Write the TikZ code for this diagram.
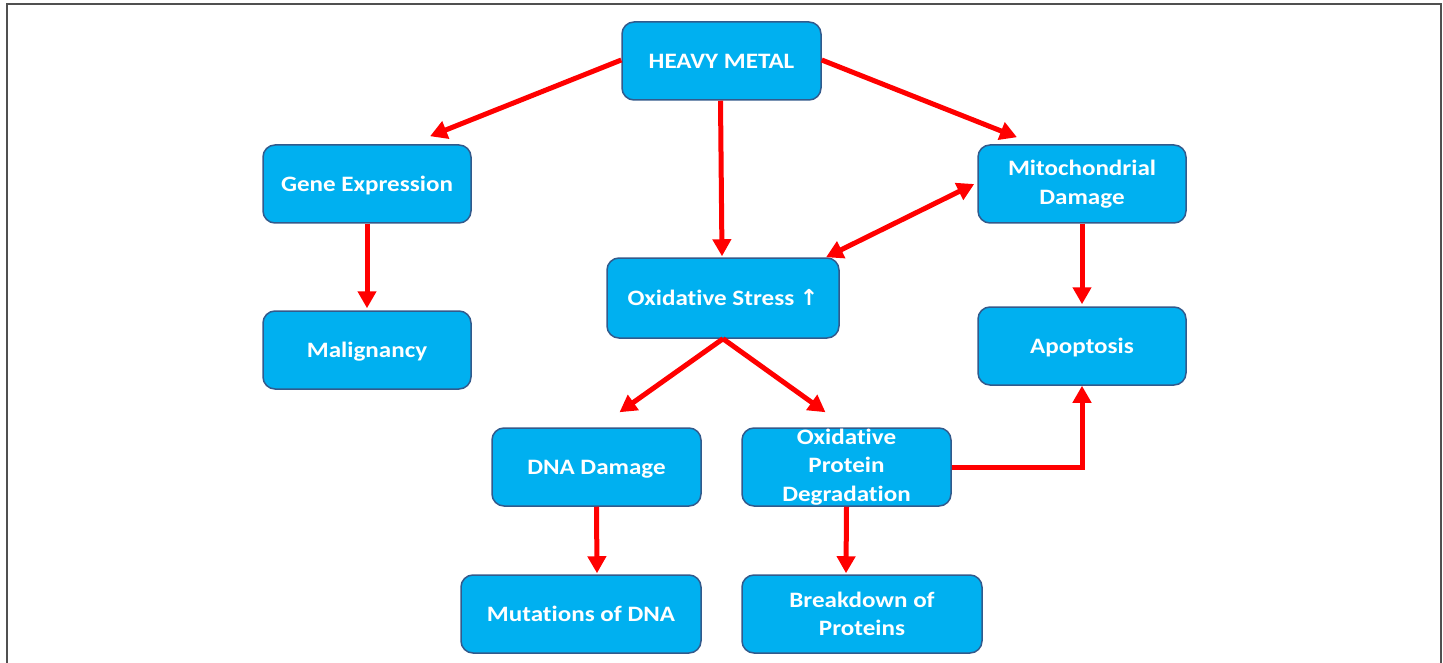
\documentclass[tikz,border=0pt]{standalone}
\usepackage{fontspec}
\setmainfont{Carlito}[FakeStretch=1.14,RawFeature=-liga]
\newfontfamily\symfont{DejaVu Sans}
\usetikzlibrary{arrows.meta}
\definecolor{boxfill}{RGB}{0,176,240}
\definecolor{boxline}{RGB}{50,90,140}
\definecolor{arrred}{RGB}{255,0,0}
\definecolor{framecol}{RGB}{80,80,80}
\tikzset{
  box/.style={draw=boxline, line width=1.5pt, fill=boxfill, rounded corners=12pt,
    text=white, font=\fontsize{22}{28.5}\selectfont\bfseries, align=center,
    inner sep=0pt, minimum height=78pt},
  oneline/.style={text height=16pt, text depth=1.6pt},
  conn/.style={draw=arrred, line width=5pt, -{Triangle[length=17pt,width=18pt]}},
  bconn/.style={draw=arrred, line width=5pt, {Triangle[length=17pt,width=18pt]}-{Triangle[length=17pt,width=18pt]}}
}
\begin{document}
\begin{tikzpicture}[x=1pt,y=-1pt]
\useasboundingbox (0,0) rectangle (1443,663);
\draw[framecol, line width=2.5pt] (7,663) -- (7,4) -- (1441,4) -- (1441,663);

\node[box, oneline, minimum width=199pt] (hm) at (721.5,61) {HEAVY METAL};
\node[box, oneline, minimum width=208pt] (ge) at (367,184) {Gene Expression};
\node[box, minimum width=208pt] (mito) at (1082,184) {Mitochondrial\\Damage};
\node[box, oneline, minimum width=232pt, minimum height=80pt] (os) at (723,298) {Oxidative Stress {\symfont\bfseries\fontsize{22}{28}\selectfont ↑}};
\node[box, oneline, minimum width=208pt] (mal) at (367,350) {Malignancy};
\node[box, oneline, minimum width=208pt] (apop) at (1082,346) {Apoptosis};
\node[box, oneline, minimum width=209pt] (dna) at (596.5,467) {DNA Damage};
\node[box, minimum width=209pt] (opd) at (846.5,467) {Oxidative\\Protein\\Degradation};
\node[box, oneline, minimum width=240pt] (mut) at (581,614) {Mutations of DNA};
\node[box, minimum width=240pt] (bdp) at (862,614) {Breakdown of\\Proteins};

\draw[conn] ([yshift=1pt]hm.west) -- ([xshift=63pt,yshift=8pt]ge.north);
\draw[conn] ([yshift=1pt]hm.east) -- ([xshift=-65pt,yshift=7pt]mito.north);
\draw[conn] ([xshift=-1pt]hm.south) -- ([xshift=-1pt,yshift=1pt]os.north);
\draw[bconn] ([xshift=-3pt]mito.west) -- ([xshift=103pt]os.north);
\draw[conn] (ge.south) -- ([yshift=2pt]mal.north);
\draw[conn] (mito.south) -- ([yshift=2pt]apop.north);
\draw[conn] (os.south) -- ([xshift=23pt,yshift=15pt]dna.north);
\draw[conn] (os.south) -- ([xshift=-21pt,yshift=15pt]opd.north);
\draw[conn] (dna.south) -- ([xshift=16pt,yshift=1pt]mut.north);
\draw[conn] (opd.south) -- ([xshift=-16pt,yshift=1pt]bdp.north);
\draw[conn] (opd.east) -| (apop.south);
\end{tikzpicture}
\end{document}
